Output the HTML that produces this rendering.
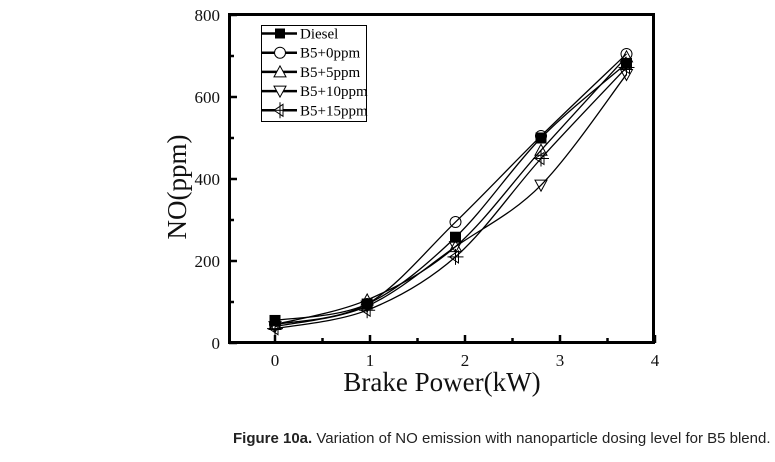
<!DOCTYPE html>
<html><head><style>
body{margin:0;background:#fff;width:775px;height:462px;overflow:hidden;position:relative}
svg{position:absolute;left:0;top:0}
.cap{position:absolute;left:233px;top:430px;font-family:"Liberation Sans",sans-serif;font-size:15px;color:#222;white-space:nowrap}
</style></head><body>
<svg id="s" width="775" height="462" font-family="Liberation Serif,serif">
<rect x="229.5" y="14.5" width="424" height="328" fill="none" stroke="#000" stroke-width="3"/>
<g id="ticks" stroke="#000" stroke-width="2.5"></g>
<g font-size="17" fill="#111" text-anchor="end">
<text x="220" y="349">0</text><text x="220" y="267">200</text><text x="220" y="185">400</text><text x="220" y="103">600</text><text x="220" y="21">800</text>
</g>
<g font-size="17" fill="#111" text-anchor="middle">
<text x="275" y="366">0</text><text x="370" y="366">1</text><text x="465" y="366">2</text><text x="560" y="366">3</text><text x="655" y="366">4</text>
</g>
<text x="442" y="391" font-size="27" text-anchor="middle" fill="#111">Brake Power(kW)</text>
<text transform="translate(186,187) rotate(-90)" font-size="27" text-anchor="middle" fill="#111">NO(ppm)</text>
<g id="lines" fill="none" stroke="#000" stroke-width="1.3"></g>
<g id="marks" stroke="#000" stroke-width="1"></g>
<rect x="261.5" y="25.5" width="105" height="96" fill="#fff" stroke="#000" stroke-width="1"/>
<g id="leg" font-size="15" fill="#000"></g>
</svg>
<div class="cap"><b>Figure 10a.</b> Variation of NO emission with nanoparticle dosing level for B5 blend.</div>
<script>
const NS="http://www.w3.org/2000/svg";
function el(p,t,a){const e=document.createElementNS(NS,t);for(const k in a)e.setAttribute(k,a[k]);p.appendChild(e);return e}
const X=v=>275+95*v, Y=v=>343-0.41*v;
const tk=document.getElementById('ticks');
for(let i=0;i<=8;i++){const x=275+i*47.5;el(tk,'line',{x1:x,x2:x,y1:343,y2:i%2?338:335});}
for(let i=0;i<=8;i++){const y=343-i*41;el(tk,'line',{x1:229,x2:i%2?234:237,y1:y,y2:y});}
const xs=[0,0.97,1.9,2.8,3.7];
const S=[
 ['sq',[55,95,258,500,682]],
 ['ci',[45,95,295,505,705]],
 ['up',[45,105,235,470,698]],
 ['dn',[40,90,235,385,655]],
 ['lf',[35,80,210,450,672]]];
function mark(g,t,x,y,fill){
 const a={stroke:'#000','stroke-width':1};
 if(t=='sq')el(g,'rect',{x:x-5,y:y-5,width:10,height:10,fill:'#000'});
 else if(t=='ci')el(g,'circle',{cx:x,cy:y,r:5.5,fill:fill,...a});
 else if(t=='up')el(g,'polygon',{points:`${x},${y-6} ${x-6},${y+5} ${x+6},${y+5}`,fill:fill,...a});
 else if(t=='dn')el(g,'polygon',{points:`${x},${y+6} ${x-6},${y-5} ${x+6},${y-5}`,fill:fill,...a});
 else {el(g,'polygon',{points:`${x-6},${y} ${x+3},${y-6} ${x+3},${y+6}`,fill:fill,...a});el(g,'line',{x1:x-8,x2:x+8,y1:y,y2:y,...a});el(g,'line',{x1:x,x2:x,y1:y-8,y2:y+8,...a});}
}
const L=document.getElementById('lines'),M=document.getElementById('marks');
S.forEach(([t,v])=>{
 const p=xs.map((x,i)=>[X(x),Y(v[i])]);
 let d=`M${p[0][0]},${p[0][1]}`;
 for(let i=0;i<p.length-1;i++){
  const p0=p[i-1]||p[i],p1=p[i],p2=p[i+1],p3=p[i+2]||p2;
  const c1=[p1[0]+(p2[0]-p0[0])/6,p1[1]+(p2[1]-p0[1])/6],c2=[p2[0]-(p3[0]-p1[0])/6,p2[1]-(p3[1]-p1[1])/6];
  d+=` C${c1[0]},${c1[1]} ${c2[0]},${c2[1]} ${p2[0]},${p2[1]}`;
 }
 el(L,'path',{d});
 p.forEach(q=>mark(M,t,q[0],q[1],'none'));
});
const G=document.getElementById('leg');
const names=['Diesel','B5+0ppm','B5+5ppm','B5+10ppm','B5+15ppm'];
names.forEach((n,i)=>{const y=33.5+i*19.2;
 el(G,'line',{x1:262,x2:297,y1:y,y2:y,stroke:'#000','stroke-width':2.5});
 mark(G,S[i][0],280,y,'#fff');
 const tx=el(G,'text',{x:300,y:y+5});tx.textContent=n;});
</script>
</body></html>
